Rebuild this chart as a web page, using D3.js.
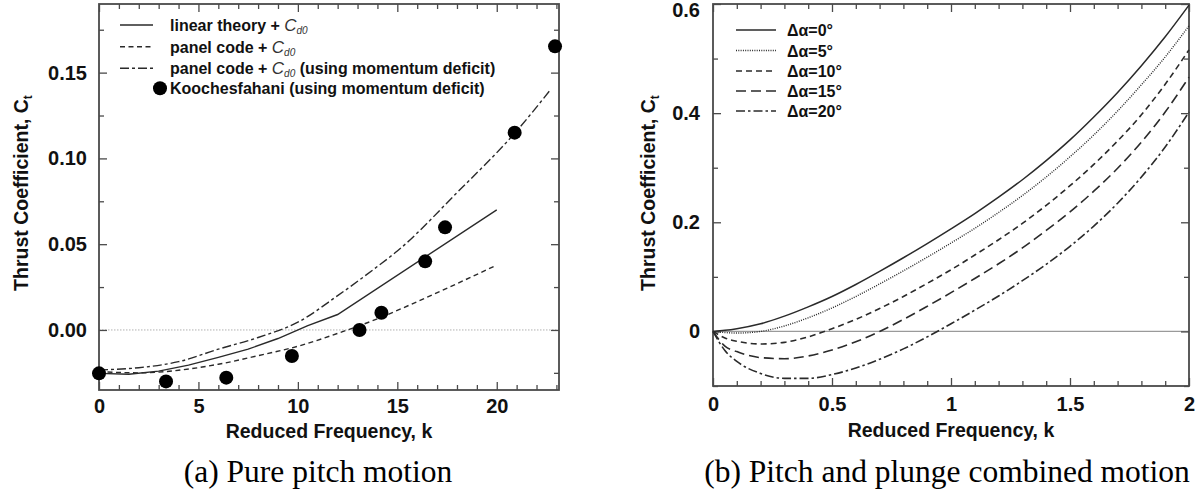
<!DOCTYPE html>
<html><head><meta charset="utf-8">
<script src="https://cdn.jsdelivr.net/npm/d3@7"></script>
<style>
body{margin:0;background:#fff}
text{font-family:"Liberation Sans",Arial,Helvetica,sans-serif;fill:#111}
text.cap{font-family:"Liberation Serif","Times New Roman",serif;fill:#000}
</style>
</head><body>
<svg id="c" width="1204" height="502"></svg>
<script>
// ---------- Panel (a): pure pitch ----------
const aLinearK  = [0, 1.5, 3, 4.5, 6, 7.5, 9, 10.5, 12, 20];
const aLinearCt = [-0.0253, -0.0258, -0.0240, -0.0205, -0.0160, -0.0112, -0.0050, 0.0025, 0.0090, 0.0700];
const aPanelK   = [0, 2, 4, 6, 8, 10, 12, 14, 16, 18, 20];
const aPanelCt  = [-0.0243, -0.0250, -0.0235, -0.0200, -0.0150, -0.0095, -0.0020, 0.0065, 0.0165, 0.0270, 0.0378];
const aMomK     = [0, 2, 4, 6, 8, 10, 12, 14, 15, 18, 21, 22.7];
const aMomCt    = [-0.0233, -0.0220, -0.0185, -0.0112, -0.0044, 0.0045, 0.0200, 0.0370, 0.0460, 0.0800, 0.1160, 0.1400];
const aExpK     = [0, 3.37, 6.4, 9.7, 13.1, 14.2, 16.4, 17.4, 20.9, 22.93];
const aExpCt    = [-0.0253, -0.0300, -0.0278, -0.0152, 0.0000, 0.0100, 0.0400, 0.0598, 0.1150, 0.1653];
const aXMajor   = [0, 5, 10, 15, 20];
const aYMajor   = [0, 0.05, 0.10, 0.15];
const aYLabels  = ["0.00", "0.05", "0.10", "0.15"];
const aLegend   = ["linear theory + ", "panel code + ", "panel code + ", "Koochesfahani (using momentum deficit)"];

// ---------- Panel (b): pitch + plunge ----------
const bK    = [0, 0.05, 0.1, 0.2, 0.3, 0.4, 0.5, 0.6, 0.7, 0.8, 0.9, 1.0, 1.1, 1.2, 1.3, 1.4, 1.5, 1.6, 1.7, 1.8, 1.9, 2.0];
const bCt0  = [0, 0.002, 0.005, 0.014, 0.028, 0.045, 0.064, 0.086, 0.110, 0.135, 0.161, 0.188, 0.216, 0.246, 0.278, 0.313, 0.351, 0.393, 0.438, 0.487, 0.540, 0.598];
const bCt5  = [0, -0.002, -0.003, 0.000, 0.010, 0.025, 0.043, 0.064, 0.087, 0.111, 0.136, 0.162, 0.189, 0.218, 0.249, 0.283, 0.320, 0.360, 0.404, 0.452, 0.503, 0.560];
const bCt10 = [0, -0.012, -0.018, -0.023, -0.020, -0.010, 0.005, 0.022, 0.042, 0.064, 0.088, 0.113, 0.140, 0.168, 0.198, 0.231, 0.267, 0.306, 0.349, 0.397, 0.453, 0.516];
const bCt15 = [0, -0.027, -0.037, -0.048, -0.050, -0.045, -0.034, -0.019, 0.000, 0.022, 0.046, 0.071, 0.097, 0.124, 0.153, 0.185, 0.219, 0.257, 0.299, 0.347, 0.402, 0.466];
const bCt20 = [0, -0.035, -0.055, -0.077, -0.086, -0.086, -0.079, -0.067, -0.051, -0.032, -0.010, 0.014, 0.039, 0.065, 0.093, 0.123, 0.156, 0.193, 0.235, 0.283, 0.338, 0.402];
const bXMajor  = [0, 0.5, 1, 1.5, 2];
const bXLabels = ["0", "0.5", "1", "1.5", "2"];
const bYMajor  = [0, 0.2, 0.4, 0.6];
const bYLabels = ["0", "0.2", "0.4", "0.6"];
const bLegend  = ["\u0394\u03b1=0\u00b0", "\u0394\u03b1=5\u00b0", "\u0394\u03b1=10\u00b0", "\u0394\u03b1=15\u00b0", "\u0394\u03b1=20\u00b0"];

const captions = ["(a) Pure pitch motion", "(b) Pitch and plunge combined motion"];

const svg = d3.select("#c");
const INK = "#2a2a2a", AX = "#4a4a4a";

function range(a, b, s) { const r = []; for (let v = a; v <= b + 1e-9; v += s) r.push(+v.toFixed(4)); return r; }

function frame(g, x, y, o) {
  const [X0, X1] = x.range(), [Y0, Y1] = y.range();
  const styleAxis = sel => { sel.select(".domain").remove(); sel.selectAll("line").attr("stroke", AX).attr("stroke-width", 1.3); };
  const styleText = sel => sel.selectAll("text").attr("font-size", 20).attr("font-weight", "bold");
  g.append("g").attr("transform", `translate(0,${Y0})`)
    .call(d3.axisBottom(x).tickValues(o.xMajor).tickSize(-8).tickPadding(o.xPad).tickFormat((d, i) => o.xLabels[i]))
    .call(styleAxis).call(styleText);
  const yAx = g.append("g").attr("transform", `translate(${X0},0)`)
    .call(d3.axisLeft(y).tickValues(o.yMajor).tickSize(-8).tickPadding(o.yPad).tickFormat((d, i) => o.yLabels[i]))
    .call(styleAxis).call(styleText);
  // keep the top label inside the picture
  yAx.selectAll("text").filter(d => y(d) < 10).attr("dy", "0.62em");
  g.append("g").attr("transform", `translate(0,${Y1})`).call(d3.axisTop(x).tickValues(o.xMajor).tickSize(-8).tickFormat("")).call(styleAxis);
  g.append("g").attr("transform", `translate(${X1},0)`).call(d3.axisRight(y).tickValues(o.yMajor).tickSize(-8).tickFormat("")).call(styleAxis);
  g.append("g").attr("transform", `translate(0,${Y0})`).call(d3.axisBottom(x).tickValues(o.xMinor).tickSize(-5).tickFormat("")).call(styleAxis);
  g.append("g").attr("transform", `translate(0,${Y1})`).call(d3.axisTop(x).tickValues(o.xMinor).tickSize(-5).tickFormat("")).call(styleAxis);
  g.append("g").attr("transform", `translate(${X0},0)`).call(d3.axisLeft(y).tickValues(o.yMinor).tickSize(-5).tickFormat("")).call(styleAxis);
  g.append("g").attr("transform", `translate(${X1},0)`).call(d3.axisRight(y).tickValues(o.yMinor).tickSize(-5).tickFormat("")).call(styleAxis);
  g.append("rect").attr("x", X0).attr("y", Y1).attr("width", X1 - X0).attr("height", Y0 - Y1)
    .attr("fill", "none").attr("stroke", AX).attr("stroke-width", 1.8);
  g.append("text").attr("x", (X0 + X1) / 2).attr("y", o.xTitleY).attr("text-anchor", "middle")
    .attr("font-size", 19.5).attr("font-weight", "bold").text("Reduced Frequency, k");
  const yt = g.append("text").attr("transform", `translate(${o.yTitleX},${o.yTitleC}) rotate(-90)`)
    .attr("text-anchor", "middle").attr("font-size", 19.5).attr("font-weight", "bold");
  yt.append("tspan").text("Thrust Coefficient, C");
  yt.append("tspan").attr("font-size", 12).attr("dy", 4).text("t");
  g.append("text").attr("class", "cap").attr("x", o.capX).attr("y", 482).attr("text-anchor", "middle")
    .attr("font-size", 31.5).text(o.caption);
}

const zip = (a, b) => a.map((v, i) => [v, b[i]]);

// ---------- Panel (a) ----------
const xa = d3.scaleLinear().domain([0, 23.13]).range([99, 559]);
const ya = d3.scaleLinear().domain([-0.035, 0.19]).range([390, 4]);
const ga = svg.append("g");
ga.append("line").attr("x1", xa(0)).attr("x2", xa(23.13)).attr("y1", ya(0)).attr("y2", ya(0))
  .attr("stroke", "#b0b0b0").attr("stroke-width", 1).attr("stroke-dasharray", "1.5,1.5");
frame(ga, xa, ya, {
  xMajor: aXMajor, xLabels: aXMajor.map(String), xMinor: range(1, 23, 1).filter(v => v % 5 !== 0),
  yMajor: aYMajor, yLabels: aYLabels, yMinor: [-0.025, 0.025, 0.075, 0.125, 0.175],
  xPad: 9, yPad: 12, xTitleY: 438, yTitleX: 28, yTitleC: 193, capX: 318, caption: captions[0]
});
const la = d3.line().x(d => xa(d[0])).y(d => ya(d[1]));
const aSeries = [
  {k: aLinearK, c: aLinearCt, dash: null, curve: d3.curveLinear},
  {k: aPanelK, c: aPanelCt, dash: "5,3.5", curve: d3.curveMonotoneX},
  {k: aMomK, c: aMomCt, dash: "9,3,3,3", curve: d3.curveMonotoneX}
];
aSeries.forEach(s => {
  ga.append("path").datum(zip(s.k, s.c)).attr("d", la.curve(s.curve)).attr("fill", "none")
    .attr("stroke", INK).attr("stroke-width", 1.4).attr("stroke-dasharray", s.dash);
});
ga.selectAll("circle.exp").data(zip(aExpK, aExpCt)).join("circle").attr("class", "exp")
  .attr("cx", d => xa(d[0])).attr("cy", d => ya(d[1])).attr("r", 7).attr("fill", "#000");
const legA = ga.append("g");
const rowsA = [25, 46.7, 68.3, 88.3];
aSeries.forEach((s, i) => {
  legA.append("line").attr("x1", 120).attr("x2", 153).attr("y1", rowsA[i]).attr("y2", rowsA[i])
    .attr("stroke", INK).attr("stroke-width", 1.4).attr("stroke-dasharray", s.dash);
});
legA.append("circle").attr("cx", 160).attr("cy", rowsA[3]).attr("r", 7).attr("fill", "#000");
aLegend.forEach((t, i) => {
  const tx = legA.append("text").attr("x", 170).attr("y", rowsA[i] + 6).attr("font-size", 16).attr("font-weight", "bold");
  tx.append("tspan").text(t);
  if (i < 3) {
    tx.append("tspan").attr("font-style", "italic").attr("font-weight", "normal").attr("font-size", 17).style("fill", "#333").text("C");
    tx.append("tspan").attr("font-style", "italic").attr("font-weight", "normal").attr("font-size", 10).attr("dy", 3).style("fill", "#333").text("d0");
    if (i === 2) tx.append("tspan").attr("dy", -3).text(" (using momentum deficit)");
  }
});

// ---------- Panel (b) ----------
const xb = d3.scaleLinear().domain([0, 2]).range([713, 1189]);
const yb = d3.scaleLinear().domain([-0.1, 0.6]).range([386, 4]);
const gb = svg.append("g");
gb.append("line").attr("x1", xb(0)).attr("x2", xb(2)).attr("y1", yb(0)).attr("y2", yb(0))
  .attr("stroke", "#9a9a9a").attr("stroke-width", 1.3);
frame(gb, xb, yb, {
  xMajor: bXMajor, xLabels: bXLabels, xMinor: range(0.1, 1.9, 0.1).filter(v => Math.abs(v * 2 - Math.round(v * 2)) > 1e-6),
  yMajor: bYMajor, yLabels: bYLabels, yMinor: [-0.1, 0.1, 0.3, 0.5],
  xPad: 11, yPad: 13, xTitleY: 437, yTitleX: 655, yTitleC: 193, capX: 947, caption: captions[1]
});
const lb = d3.line().x(d => xb(d[0])).y(d => yb(d[1])).curve(d3.curveMonotoneX);
const bSeries = [
  {c: bCt0, dash: null, w: 1.5},
  {c: bCt5, dash: "1,1.3", w: 1.4},
  {c: bCt10, dash: "6,4", w: 1.6},
  {c: bCt15, dash: "10,5", w: 1.6},
  {c: bCt20, dash: "9,3,2.5,3", w: 1.6}
];
bSeries.forEach(s => {
  gb.append("path").datum(zip(bK, s.c)).attr("d", lb).attr("fill", "none")
    .attr("stroke", INK).attr("stroke-width", s.w).attr("stroke-dasharray", s.dash);
});
const rowsB = [30, 50.5, 71, 91, 111];
bSeries.forEach((s, i) => {
  gb.append("line").attr("x1", 736).attr("x2", 776).attr("y1", rowsB[i]).attr("y2", rowsB[i])
    .attr("stroke", INK).attr("stroke-width", s.w).attr("stroke-dasharray", s.dash);
  gb.append("text").attr("x", 787).attr("y", rowsB[i] + 6).attr("font-size", 16).attr("font-weight", "bold").text(bLegend[i]);
});
</script>
</body></html>
